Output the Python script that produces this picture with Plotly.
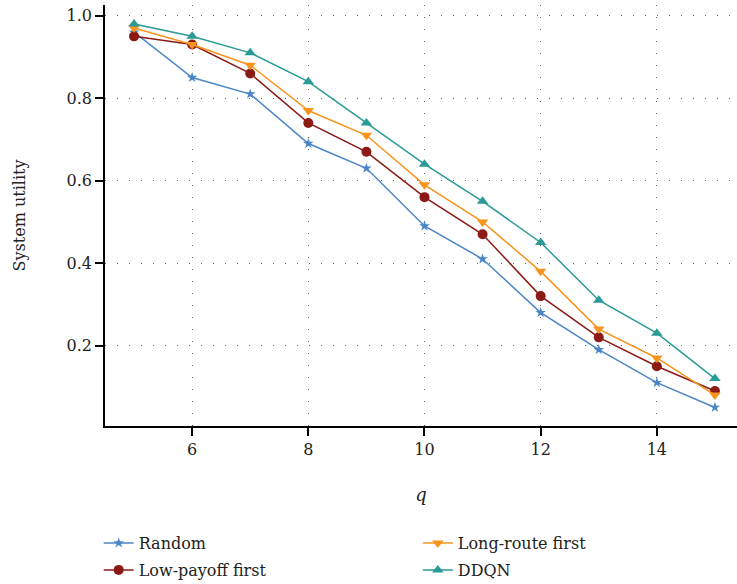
import plotly.graph_objects as go

q = [5, 6, 7, 8, 9, 10, 11, 12, 13, 14, 15]
random_vals = [0.96, 0.85, 0.81, 0.69, 0.63, 0.49, 0.41, 0.28, 0.19, 0.11, 0.05]
low_payoff = [0.95, 0.93, 0.86, 0.74, 0.67, 0.56, 0.47, 0.32, 0.22, 0.15, 0.09]
long_route = [0.97, 0.93, 0.88, 0.77, 0.71, 0.59, 0.50, 0.38, 0.24, 0.17, 0.08]
ddqn = [0.98, 0.95, 0.91, 0.84, 0.74, 0.64, 0.55, 0.45, 0.31, 0.23, 0.12]

xticks = [6, 8, 10, 12, 14]
yticks = [0.2, 0.4, 0.6, 0.8, 1.0]

FONT = "DejaVu Serif"
TXT = "#222222"

fig = go.Figure()
fig.add_trace(go.Scatter(x=q, y=random_vals, name="Random", mode="lines+markers",
                         line=dict(color="#4a86c5", width=1.5),
                         marker=dict(symbol="star", size=8, color="#4a86c5"),
                         legend="legend", showlegend=True))
fig.add_trace(go.Scatter(x=q, y=low_payoff, name="Low-payoff first", mode="lines+markers",
                         line=dict(color="#8b1a14", width=1.5),
                         marker=dict(symbol="circle", size=10, color="#8b1a14"),
                         legend="legend2", showlegend=True))
fig.add_trace(go.Scatter(x=q, y=long_route, name="Long-route first", mode="lines+markers",
                         line=dict(color="#f7941d", width=1.5),
                         marker=dict(symbol="triangle-down", size=10, color="#f7941d"),
                         legend="legend3", showlegend=True))
fig.add_trace(go.Scatter(x=q, y=ddqn, name="DDQN", mode="lines+markers",
                         line=dict(color="#2a9a96", width=1.5),
                         marker=dict(symbol="triangle-up", size=10, color="#2a9a96"),
                         legend="legend4", showlegend=True))

axis_common = dict(showline=True, linecolor="black", linewidth=1.5,
                   ticks="outside", ticklen=8, tickwidth=1.5, tickcolor="black",
                   showgrid=True, gridcolor="#666666", griddash="1.2px,10.8px", gridwidth=1.2,
                   zeroline=False, mirror=False, automargin=False,
                   tickfont=dict(family=FONT, size=16, color=TXT))

fig.update_xaxes(range=[4.5, 15.38], tickvals=xticks, ticktext=[str(v) for v in xticks],
                 title=dict(text="<i>q</i>", font=dict(family=FONT, size=18, color=TXT), standoff=30),
                 **axis_common)
fig.update_yaxes(range=[0.005, 1.026], tickvals=yticks, ticktext=[f"{v:.1f}" for v in yticks],
                 title=dict(text="System utility", font=dict(family=FONT, size=16, color=TXT), standoff=37),
                 **axis_common)

legend_common = dict(orientation="v", yanchor="middle", xanchor="left",
                     bgcolor="rgba(0,0,0,0)", visible=True,
                     font=dict(family=FONT, size=16, color=TXT))
row1, row2 = -0.2779, -0.342
col1, col2 = -0.01, 0.495
fig.update_layout(
    width=737, height=584,
    showlegend=True,
    margin=dict(l=105, r=0, t=5, b=158, autoexpand=False),
    plot_bgcolor="white", paper_bgcolor="white",
    legend=dict(x=col1, y=row1, **legend_common),
    legend2=dict(x=col1, y=row2, **legend_common),
    legend3=dict(x=col2, y=row1, **legend_common),
    legend4=dict(x=col2, y=row2, **legend_common),
)

fig.write_html("out.html")
